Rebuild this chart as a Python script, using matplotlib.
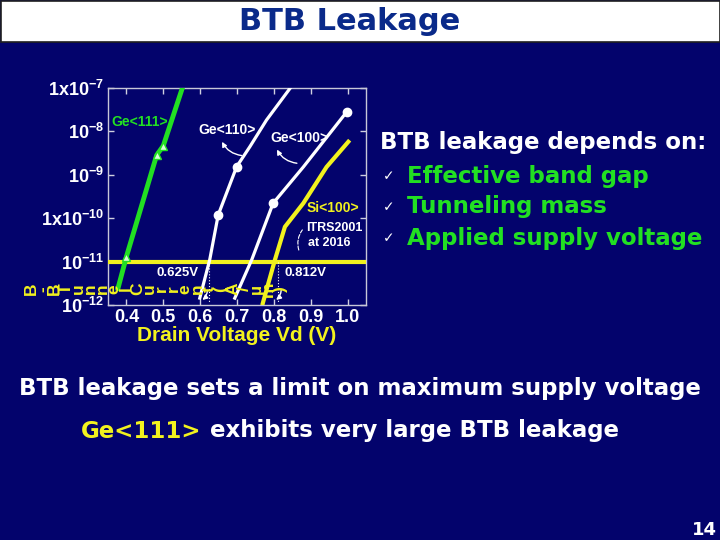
import matplotlib
matplotlib.use("Agg")
import matplotlib.pyplot as plt
from matplotlib.patches import Rectangle

plt.rcParams['font.family'] = ['Liberation Sans', 'DejaVu Sans']
plt.rcParams['font.weight'] = 'bold'
plt.rcParams['mathtext.default'] = 'regular'

# values
ge111_vd = [0.377, 0.40, 0.482, 0.50, 0.552]
ge111_i = [2.4e-12, 1.3e-11, 2.8e-9, 4.6e-9, 1.0e-7]
ge111_mark_vd = [0.40, 0.482, 0.50]
ge111_mark_i = [1.3e-11, 2.8e-9, 4.6e-9]

ge110_vd = [0.599, 0.626, 0.649, 0.699, 0.735, 0.780, 0.844]
ge110_i = [1.44e-12, 1.1e-11, 1.18e-10, 1.52e-9, 4.4e-9, 1.8e-8, 9.7e-8]
ge110_mark_vd = [0.649, 0.699]
ge110_mark_i = [1.18e-10, 1.52e-9]

ge100_vd = [0.694, 0.740, 0.798, 0.880, 0.998]
ge100_i = [1.44e-12, 1.1e-11, 2.2e-10, 1.5e-9, 2.8e-8]
ge100_mark_vd = [0.798, 0.998]
ge100_mark_i = [2.2e-10, 2.8e-8]

si100_vd = [0.770, 0.803, 0.830, 0.880, 0.943, 1.002]
si100_i = [1.1e-12, 1.1e-11, 6.3e-11, 2.2e-10, 1.5e-9, 5.7e-9]

itrs_limit = 1e-11
vd_cross = [0.625, 0.812]

x_ticks = [0.4, 0.5, 0.6, 0.7, 0.8, 0.9, 1.0]
y_ticks = [1e-12, 1e-11, 1e-10, 1e-9, 1e-8, 1e-7]
y_ticklabels = ['$10^{-12}$', '$10^{-11}$', '$1x10^{-10}$', '$10^{-9}$', '$10^{-8}$', '$1x10^{-7}$']

bg = '#03036c'
green = '#22e022'
yellow = '#f2f21e'
slide_font = 'DejaVu Sans'

fig = plt.figure(figsize=(7.2, 5.4), dpi=100, facecolor=bg)

# chart
ax = fig.add_axes([108/720, 1 - 305/540, 258/720, 217.3/540], facecolor=bg)
ax.set_yscale('log')
ax.set_xlim(0.35, 1.05)
ax.set_ylim(1e-12, 1e-7)

ax.axhline(itrs_limit, color=yellow, lw=3, zorder=3)
ax.plot(ge111_vd, ge111_i, color=green, lw=3.5, zorder=4)
ax.plot(ge111_mark_vd, ge111_mark_i, ls='none', marker='^', ms=6, mfc='#d8ffd8', mec=green, zorder=5)
ax.plot(ge110_vd, ge110_i, color='white', lw=2.3, zorder=4)
ax.plot(ge110_mark_vd, ge110_mark_i, ls='none', marker='o', ms=6, color='white', zorder=5)
ax.plot(ge100_vd, ge100_i, color='white', lw=2.3, zorder=4)
ax.plot(ge100_mark_vd, ge100_mark_i, ls='none', marker='o', ms=6, color='white', zorder=5)
ax.plot(si100_vd, si100_i, color=yellow, lw=3, zorder=4)

for v in vd_cross:
    ax.plot([v, v], [itrs_limit, 1.1e-12], color='white', lw=0.8, ls=':', zorder=3)

ax.set_xticks(x_ticks)
ax.set_xticklabels([f'{t:.1f}' for t in x_ticks])
ax.set_yticks(y_ticks)
ax.set_yticklabels(y_ticklabels)
ax.minorticks_off()
ax.tick_params(direction='in', colors='#d0d0e0', length=4, width=1,
               top=True, right=True, labelsize=13, pad=3)
for lab in ax.get_xticklabels() + ax.get_yticklabels():
    lab.set_color('white')
    lab.set_fontweight('bold')
ax.set_xlabel('Drain Voltage Vd (V)', color=yellow, fontsize=15, fontweight='bold', labelpad=0)
for s in ax.spines.values():
    s.set_color('#c8c8d8')
    s.set_linewidth(1)

# chart annotations
ax.text(0.36, 1.66e-8, 'Ge<111>', color=green, fontsize=10, va='center')
ax.text(0.594, 1.07e-8, 'Ge<110>', color='white', fontsize=10, va='center')
ax.text(0.79, 6.8e-9, 'Ge<100>', color='white', fontsize=10, va='center')
ax.text(0.89, 1.7e-10, 'Si<100>', color=yellow, fontsize=10, va='center')
ax.text(0.888, 5.9e-11, 'ITRS2001', color='white', fontsize=9, va='center')
ax.text(0.892, 2.7e-11, 'at 2016', color='white', fontsize=9, va='center')
ax.text(0.482, 5.5e-12, '0.625V', color='white', fontsize=9.5, va='center')
ax.text(0.83, 5.5e-12, '0.812V', color='white', fontsize=9.5, va='center')
ax.annotate('', xy=(0.656, 6.5e-9), xytext=(0.72, 2.7e-9),
            arrowprops=dict(arrowstyle='-|>', color='white', lw=1, mutation_scale=7,
                            connectionstyle='arc3,rad=-0.3'))
ax.annotate('', xy=(0.805, 4.3e-9), xytext=(0.87, 1.8e-9),
            arrowprops=dict(arrowstyle='-|>', color='white', lw=1, mutation_scale=7,
                            connectionstyle='arc3,rad=-0.3'))
ax.annotate('', xy=(0.882, 6.0e-11), xytext=(0.87, 1.6e-11),
            arrowprops=dict(arrowstyle='-', color='white', lw=0.8, ls='--',
                            connectionstyle='arc3,rad=-0.3'))
ax.annotate('', xy=(0.6, 1.2e-12), xytext=(0.62, 2.5e-12),
            arrowprops=dict(arrowstyle='-|>', color='white', lw=1, mutation_scale=7,
                            connectionstyle='arc3,rad=-0.3'))
ax.annotate('', xy=(0.8, 1.2e-12), xytext=(0.82, 2.5e-12),
            arrowprops=dict(arrowstyle='-|>', color='white', lw=1, mutation_scale=7,
                            connectionstyle='arc3,rad=-0.3'))

# slide overlay in pixel coordinates
ov = fig.add_axes([0, 0, 1, 1])
ov.set_xlim(0, 720)
ov.set_ylim(540, 0)
ov.axis('off')
ov.patch.set_alpha(0)
ov.set_zorder(5)

ov.add_patch(Rectangle((0.5, 0.5), 719, 41, facecolor='white', edgecolor='#202020', lw=1.2))
ov.text(350, 22, 'BTB Leakage', color='#0a2a8a', fontsize=22, ha='center', va='center',
        family=slide_font)

# garbled y-axis label (characters turned one by one, as in the slide)
ylabel = 'B-BTunnelCurrent(A/\u00b5m)'
x0, x1 = 31, 280
step = (x1 - x0) / (len(ylabel) - 1)
for i, ch in enumerate(ylabel):
    ov.text(x0 + i * step, 289, ch, color=yellow, fontsize=12.5, rotation=90,
            ha='center', va='center')

ov.text(380, 143, 'BTB leakage depends on:', color='white', fontsize=16.5, va='center',
        family=slide_font)
bullets = ['Effective band gap', 'Tunneling mass', 'Applied supply voltage']
for i, b in enumerate(bullets):
    yy = 176 + i * 31
    ov.text(383, yy, '\u2713', color='white', fontsize=10, va='center', family='DejaVu Sans')
    ov.text(407, yy, b, color=green, fontsize=16.5, va='center', family=slide_font)

ov.text(360, 388, 'BTB leakage sets a limit on maximum supply voltage', color='white',
        fontsize=16.5, ha='center', va='center', family=slide_font)
t1 = ov.text(81, 431, 'Ge<111>', color=yellow, fontsize=16.5, va='center', family=slide_font)
ov.annotate(' exhibits very large BTB leakage', xycoords=t1, xy=(1, 0.5), va='center',
            color='white', fontsize=16.5, family=slide_font)
ov.text(717, 530, '14', color='white', fontsize=13, ha='right', va='center', family=slide_font)

fig.savefig('out.png', dpi=100, facecolor=bg)
